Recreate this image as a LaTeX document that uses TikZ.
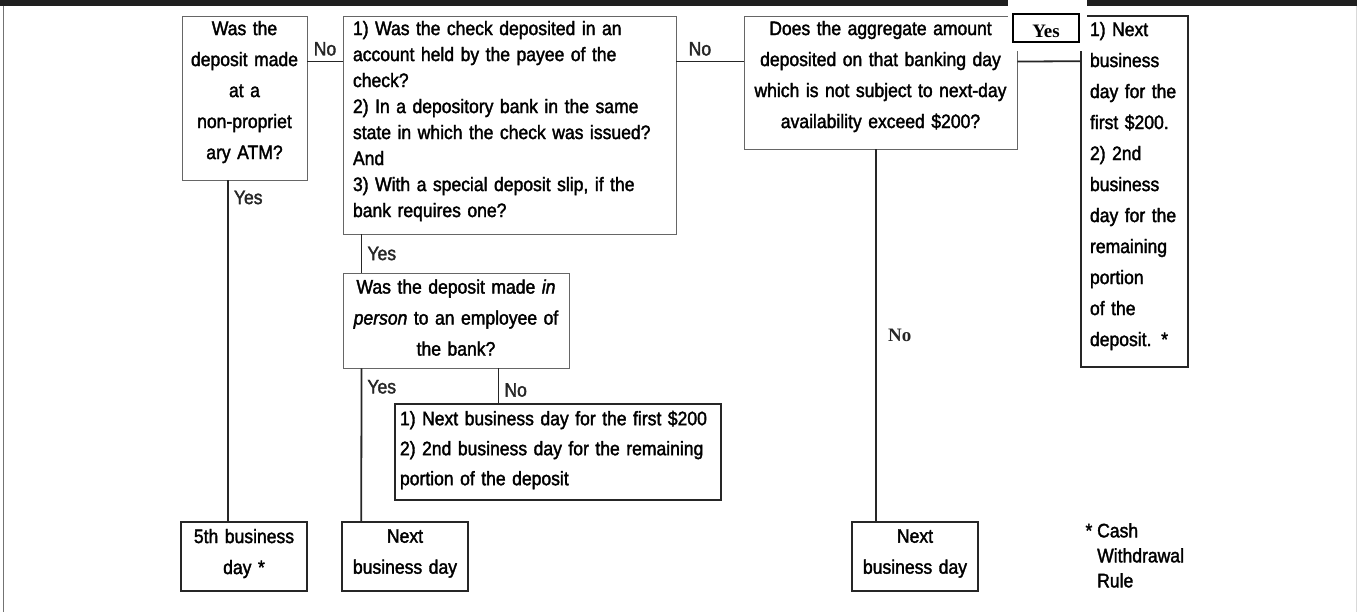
\documentclass[tikz,border=0pt]{standalone}
\usepackage{fontspec}
\setmainfont{Liberation Sans}[FakeStretch=0.9, FakeBold=1.8]
\newfontfamily\markfont{Liberation Serif}
\usetikzlibrary{positioning}

\begin{document}
\begin{tikzpicture}[x=1pt, y=-1pt,
    question/.style={draw=black!60, line width=0.9pt, fill=white, inner xsep=5pt, inner ysep=0pt, font=\fontsize{19.5}{31}\selectfont},
    result/.style={draw=black!85, line width=1.6pt, fill=white, inner xsep=4pt, inner ysep=0pt, font=\fontsize{19.5}{31}\selectfont},
    link/.style={black!85, line width=1.8pt},
    tag/.style={font=\fontsize{19.5}{24}\selectfont, inner sep=5pt},
    boldtag/.style={font=\markfont\bfseries\fontsize{19}{19}\selectfont}]

    \useasboundingbox (0,0) rectangle (1357,612);
    % frame
    \fill[black!88] (0,0) rectangle (1357,6);
    \draw[black!55, line width=1pt] (3,6) -- (3,612);
    \draw[black!15, line width=1pt] (1356,6) -- (1356,612);

    %% questions
    % Nodes
    \node[question, minimum width=125pt, minimum height=164pt, text width=115pt, text depth=140pt, align=center] (atm) at (244.5,98) {Was the\\deposit made\\at a\\non-propriet\\ary ATM?};
    \node[question, minimum width=333pt, minimum height=218pt, text width=313pt, text depth=194pt, align=left, inner xsep=10pt, font=\fontsize{19.5}{26}\selectfont] (check) at (509.5,125) {1) Was the check deposited in an\\account held by the payee of the\\check?\\2) In a depository bank in the same\\state in which the check was issued?\\And\\3) With a special deposit slip, if the\\bank requires one?};
    \node[question, minimum width=273pt, minimum height=133pt, text width=263pt, text depth=109pt, align=center] (amount) at (880.5,82.5) {Does the aggregate amount\\deposited on that banking day\\which is not subject to next-day\\availability exceed \$200?};
    \node[question, minimum width=226pt, minimum height=95pt, text width=216pt, text depth=68pt, align=center] (person) at (456,320.5) {Was the deposit made \textit{in}\\\textit{person} to an employee of\\the bank?};

    %% results
    % Nodes
    \node[result, minimum width=107pt, minimum height=351pt, text width=89pt, text depth=325pt, align=left, inner xsep=9pt] (split) at (1134.5,191.5) {1) Next\\business\\day for the\\first \$200.\\2) 2nd\\business\\day for the\\remaining\\portion\\of the\\deposit. *};
    \node[result, minimum width=326pt, minimum height=96pt, text width=316pt, text depth=68pt, align=left, inner xsep=5pt, font=\fontsize{19.5}{30}\selectfont] (partial) at (558,452) {1) Next business day for the first \$200\\2) 2nd business day for the remaining\\portion of the deposit};
    \node[result, minimum width=126pt, minimum height=69pt, text width=118pt, text depth=41pt, align=center] (fifth) at (244,556.5) {5th business\\day *};
    \node[result, minimum width=126pt, minimum height=69pt, text width=118pt, text depth=41pt, align=center] (next1) at (405,556.5) {Next\\business day};
    \node[result, minimum width=126pt, minimum height=69pt, text width=118pt, text depth=41pt, align=center] (next2) at (915,556.5) {Next\\business day};
    \node[tag, inner sep=0pt, anchor=north west, align=left, font=\fontsize{19.5}{25}\selectfont] (note) at (1097,523) {\llap{* }Cash\\Withdrawal\\Rule};

    % Yes box over the corner
    \fill[white] (1008,0) rectangle (1087,51);
    \node[draw=black, line width=2.2pt, fill=white, minimum width=66pt, minimum height=28pt, inner sep=0pt, text height=20pt, text depth=0pt, boldtag] (yes) at (1046,28) {Yes};

    % Connections
    \draw[link] ([yshift=-46pt]atm.north east) -- node[tag, midway, above] {No} ([yshift=-46pt]check.north west);
    \draw[link] ([yshift=-46pt]check.north east) -- node[tag, pos=0.35, above] {No} ([yshift=-46pt]amount.north west);
    \draw[link] ([yshift=-46pt]amount.north east) -- ([yshift=-46pt]split.north west);
    \draw[link] ([xshift=-16.5pt]atm.south) -- node[tag, pos=0.05, right] {Yes} ([xshift=-16pt]fifth.north);
    \draw[link] ([xshift=19pt]check.south west) -- node[tag, midway, right] {Yes} ([xshift=19pt]person.north west);
    \draw[link] ([xshift=19pt]person.south west) -- node[tag, pos=0.12, right] {Yes} ([xshift=20pt]next1.north west);
    \draw[link] ([xshift=156pt]person.south west) coordinate (turn) -- node[tag, pos=0.62, right] {No} (turn |- partial.north);
    \draw[link] ([xshift=-4.5pt]amount.south) coordinate (drop) -- node[boldtag, midway, right, xshift=8pt] {No} (drop |- next2.north);
\end{tikzpicture}
\end{document}
